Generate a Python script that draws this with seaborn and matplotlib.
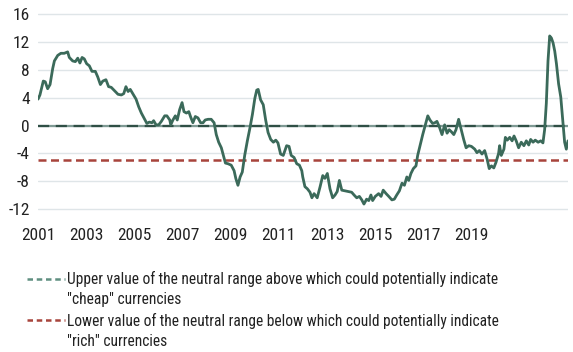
import numpy as np
import pandas as pd
import matplotlib
matplotlib.use("Agg")
import matplotlib.pyplot as plt
import seaborn as sns
from matplotlib.lines import Line2D
from matplotlib import font_manager

# values (decimal year, indicator value)
years = [
    2001.00, 2001.08, 2001.22, 2001.30, 2001.40, 2001.50, 2001.61, 2001.68, 2001.82, 2001.95,
    2002.09, 2002.23, 2002.30, 2002.44, 2002.55, 2002.65, 2002.74, 2002.83, 2002.92, 2003.02,
    2003.13, 2003.24, 2003.38, 2003.48, 2003.59, 2003.69, 2003.82, 2003.93, 2004.04, 2004.18,
    2004.32, 2004.46, 2004.56, 2004.65, 2004.74, 2004.83, 2004.97, 2005.07, 2005.18, 2005.29,
    2005.43, 2005.52, 2005.62, 2005.73, 2005.80, 2005.90, 2006.01, 2006.12, 2006.26, 2006.35,
    2006.47, 2006.51, 2006.60, 2006.70, 2006.78, 2006.88, 2006.98, 2007.06, 2007.16, 2007.26,
    2007.34, 2007.43, 2007.53, 2007.64, 2007.75, 2007.85, 2007.94, 2008.06, 2008.19, 2008.31,
    2008.40, 2008.50, 2008.61, 2008.68, 2008.78, 2008.89, 2009.02, 2009.14, 2009.21, 2009.30,
    2009.39, 2009.48, 2009.58, 2009.69, 2009.80, 2009.90, 2010.00, 2010.08, 2010.14, 2010.24,
    2010.35, 2010.45, 2010.55, 2010.66, 2010.77, 2010.87, 2010.96, 2011.07, 2011.18, 2011.32,
    2011.42, 2011.51, 2011.63, 2011.74, 2011.85, 2011.95, 2011.99, 2012.08, 2012.18, 2012.29,
    2012.37, 2012.46, 2012.59, 2012.71, 2012.82, 2012.91, 2013.01, 2013.12, 2013.23, 2013.33,
    2013.42, 2013.51, 2013.61, 2013.74, 2013.88, 2014.02, 2014.12, 2014.23, 2014.34, 2014.44,
    2014.53, 2014.64, 2014.73, 2014.82, 2014.89, 2015.00, 2015.14, 2015.24, 2015.33, 2015.45,
    2015.56, 2015.69, 2015.79, 2015.89, 2016.00, 2016.11, 2016.21, 2016.31, 2016.39, 2016.48,
    2016.58, 2016.69, 2016.76, 2016.86, 2016.97, 2017.08, 2017.18, 2017.27, 2017.38, 2017.47,
    2017.56, 2017.66, 2017.77, 2017.88, 2017.98, 2018.07, 2018.16, 2018.26, 2018.35, 2018.46,
    2018.57, 2018.67, 2018.77, 2018.88, 2018.99, 2019.13, 2019.22, 2019.32, 2019.43, 2019.54,
    2019.64, 2019.73, 2019.82, 2019.92, 2020.01, 2020.12, 2020.16, 2020.23, 2020.34, 2020.40,
    2020.48, 2020.58, 2020.68, 2020.76, 2020.85, 2020.95, 2021.06, 2021.17, 2021.27, 2021.37,
    2021.45, 2021.55, 2021.64, 2021.76, 2021.87, 2021.96, 2022.03, 2022.10, 2022.17, 2022.24,
    2022.31, 2022.38, 2022.45, 2022.52, 2022.61, 2022.70, 2022.79, 2022.86, 2022.93, 2023.00,
]
values = [
    3.8, 4.4, 6.4, 6.3, 5.3, 5.9, 8.2, 9.3, 10.1, 10.4,
    10.4, 10.6, 9.8, 9.3, 9.2, 9.7, 9.0, 9.8, 9.6, 8.9,
    8.6, 7.8, 7.8, 7.0, 5.9, 6.4, 6.6, 5.6, 5.5, 5.0,
    4.5, 4.4, 4.6, 5.6, 4.9, 5.2, 4.4, 3.8, 2.7, 1.8,
    0.9, 0.3, 0.5, 0.4, 0.7, 0.1, 0.1, 0.6, 1.4, 1.4,
    0.8, 0.1, 0.8, 1.4, 0.8, 2.3, 3.3, 2.0, 1.8, 2.0,
    1.2, 0.4, 1.3, 1.1, 0.4, 0.4, 0.8, 0.9, 0.9, 0.4,
    -1.3, -2.4, -3.2, -4.1, -5.4, -5.5, -5.7, -6.5, -7.6, -8.6,
    -7.4, -6.7, -4.3, -2.2, -0.3, 1.6, 3.9, 5.1, 5.2, 3.7,
    3.0, 0.8, -1.0, -2.0, -2.4, -2.1, -2.5, -4.1, -4.3, -2.9,
    -3.0, -4.3, -4.6, -5.5, -5.7, -6.5, -7.4, -8.8, -9.1, -9.6,
    -10.4, -9.8, -10.4, -8.8, -7.2, -7.6, -6.9, -9.1, -10.4, -10.0,
    -9.5, -7.9, -9.3, -9.4, -9.5, -9.6, -10.0, -10.4, -10.2, -10.7,
    -11.3, -10.6, -10.8, -10.0, -10.8, -10.2, -9.8, -10.2, -9.3, -9.8,
    -10.2, -10.7, -10.6, -10.0, -9.4, -8.3, -8.6, -7.4, -7.9, -6.9,
    -6.2, -5.8, -4.3, -2.9, -1.3, 0.1, 1.4, 0.8, 0.3, 0.4,
    0.6, -0.2, -1.3, 0.1, -1.1, -0.6, -0.9, -1.3, -0.6, 0.9,
    -0.6, -2.0, -3.2, -2.9, -3.0, -3.4, -3.9, -3.6, -4.1, -3.6,
    -4.8, -6.2, -5.8, -6.1, -5.3, -4.0, -2.9, -4.3, -3.4, -1.7,
    -2.1, -1.7, -2.2, -1.5, -2.2, -3.2, -2.4, -2.9, -2.2, -2.8,
    -2.0, -2.4, -2.1, -2.4, -2.2, -2.5, -0.6, 3.2, 9.3, 12.9,
    12.6, 11.9, 10.7, 8.9, 6.0, 4.1, 0.4, -2.4, -3.4, -2.2,
]
n = min(len(years), len(values))
df = pd.DataFrame({"year": years[:n], "value": values[:n]})

upper_level = 0
lower_level = -5
x_ticks = [2001, 2003, 2005, 2007, 2009, 2011, 2013, 2015, 2017, 2019]
y_ticks = [-12, -8, -4, 0, 4, 8, 12, 16]
upper_label = ['Upper value of the neutral range above which could potentially indicate',
               '"cheap" currencies']
lower_label = ['Lower value of the neutral range below which could potentially indicate',
               '"rich" currencies']

sns.set_style("white")

# pick a narrow face if one is installed
installed = {f.name for f in font_manager.fontManager.ttflist}
font_sizes = {"Roboto Condensed": 11.2, "Liberation Sans Narrow": 11.2,
              "Roboto": 10.0, "Liberation Sans": 10.0, "DejaVu Sans": 9.0}
family = next(f for f in font_sizes if f in installed)
fs = font_sizes[family]
plt.rcParams["font.family"] = [family, "DejaVu Sans"]

fig = plt.figure(figsize=(5.73, 3.52), dpi=100)
ax = fig.add_axes([38 / 573, 1 - 211 / 352, 530 / 573, 198 / 352])

for y in y_ticks:
    ax.axhline(y, color="#dfe5e8", linewidth=1.0, zorder=0)

ax.axhline(upper_level, color="#7f9a94", linewidth=1.6, zorder=1)
ax.axhline(upper_level, color="#2f4f45", linewidth=1.6, linestyle=(0, (5, 3)), zorder=2)
ax.axhline(lower_level, color="#a8443c", linewidth=1.8, linestyle=(0, (3.2, 1.8)), zorder=2)

sns.lineplot(data=df, x="year", y="value", color="#3b6a5a", linewidth=2.0, ax=ax, zorder=3)

ax.set_xlim(2001, 2023)
ax.set_ylim(-12.3, 16.2)
ax.set_xticks(x_ticks)
ax.set_xticklabels([str(t) for t in x_ticks])
ax.set_yticks(y_ticks)
ax.set_yticklabels([str(t) for t in y_ticks])
ax.tick_params(axis="both", length=0, labelsize=fs + 1.3, labelcolor="#222222")
ax.tick_params(axis="x", pad=12)
ax.tick_params(axis="y", pad=6)
ax.set_xlabel("")
ax.set_ylabel("")
for s in ax.spines.values():
    s.set_visible(False)

# the dashed key sits beside the first line of each wrapped label
blank = Line2D([], [], linestyle="none")
handles = [
    Line2D([], [], color="#5f8f80", linewidth=1.8, linestyle=(0, (2.2, 1.5))), blank,
    Line2D([], [], color="#a8443c", linewidth=1.8, linestyle=(0, (2.2, 1.5))), blank,
]
labels = upper_label + lower_label
fig.legend(handles, labels, loc="upper left",
           bbox_to_anchor=(27 / 573, 1 - 271 / 352), frameon=False,
           fontsize=fs, handlelength=2.45, handletextpad=0.15,
           labelspacing=0.35, borderpad=0, borderaxespad=0, labelcolor="#222222")

fig.savefig("out.png", dpi=100)
